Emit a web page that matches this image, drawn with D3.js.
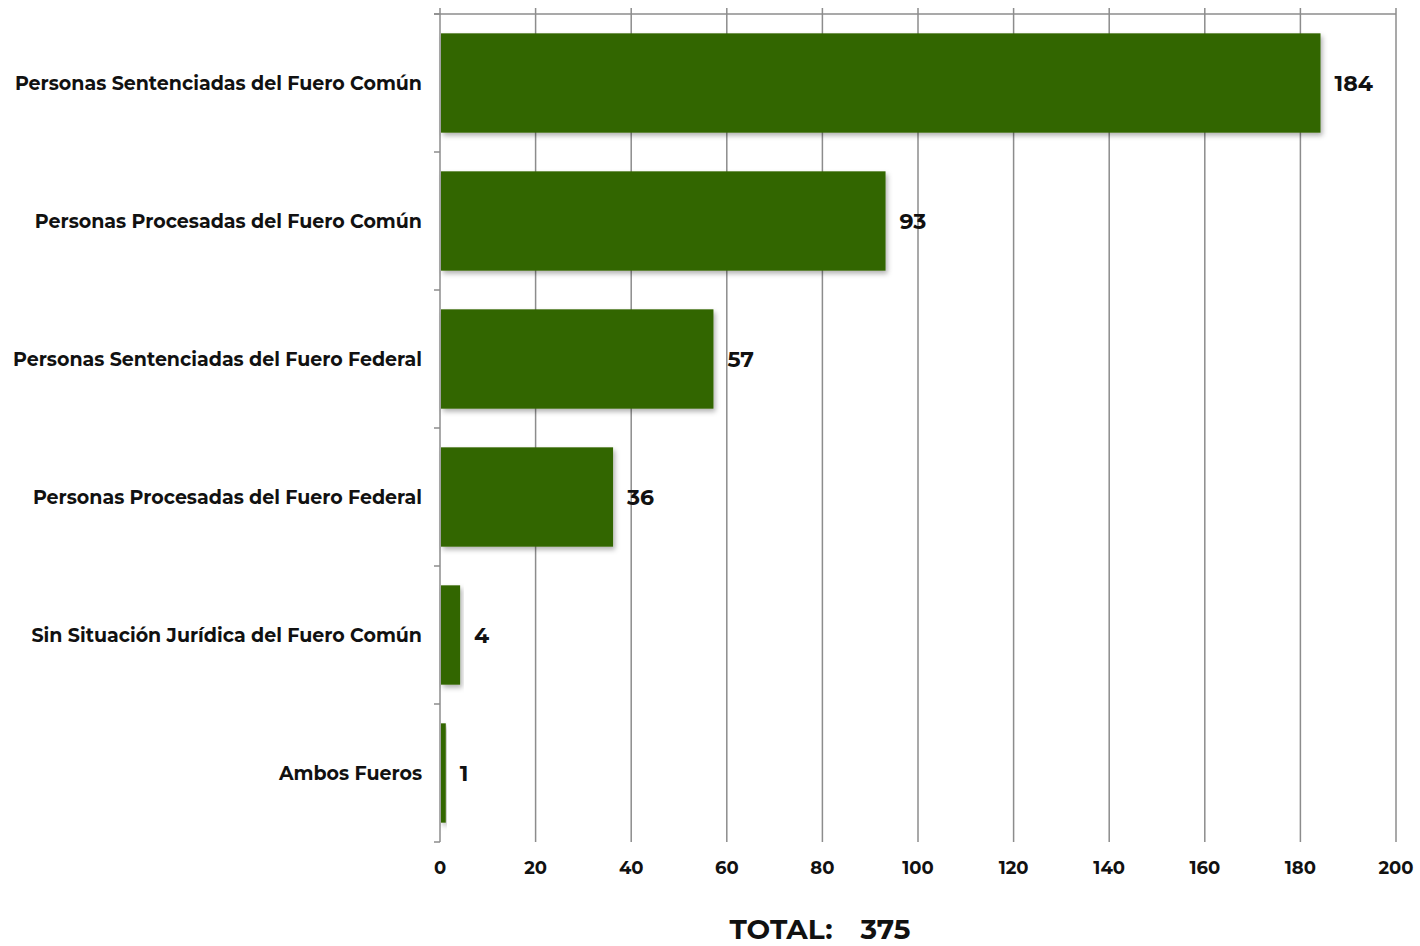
<!DOCTYPE html>
<html>
<head>
<meta charset="utf-8">
<script src="https://cdn.jsdelivr.net/npm/d3@7"></script>
<style>
  body { margin: 0; background: #fff; }
  text { font-family: "Montserrat", "Noto Sans", sans-serif; font-weight: bold; fill: #111; }
</style>
</head>
<body>
<div id="chart"></div>
<script>
// categories and values
var categories = [
  "Personas Sentenciadas del Fuero Común",
  "Personas Procesadas del Fuero Común",
  "Personas Sentenciadas del Fuero Federal",
  "Personas Procesadas del Fuero Federal",
  "Sin Situación Jurídica del Fuero Común",
  "Ambos Fueros"
];
var values = [184, 93, 57, 36, 4, 1];
var xTicks = [0, 20, 40, 60, 80, 100, 120, 140, 160, 180, 200];
var totalLabel = "TOTAL:";
var totalValue = 375;

var margin = {top: 14, right: 24, bottom: 104, left: 440},
    width = 1420 - margin.left - margin.right,
    height = 946 - margin.top - margin.bottom;

var svg = d3.select("#chart")
  .append("svg")
    .attr("width", 1420)
    .attr("height", 946);

var defs = svg.append("defs");
var filt = defs.append("filter").attr("id", "shadow")
  .attr("x", "-10%").attr("y", "-10%").attr("width", "130%").attr("height", "130%");
filt.append("feDropShadow")
  .attr("dx", 2).attr("dy", 3).attr("stdDeviation", 2.5)
  .attr("flood-color", "#000").attr("flood-opacity", 0.3);

var g = svg.append("g")
  .attr("transform", "translate(" + margin.left + "," + margin.top + ")");

var x = d3.scaleLinear().domain([0, 200]).range([0, width]);
var y = d3.scaleBand().domain(categories).range([0, height])
  .paddingInner(0.28).paddingOuter(0.14);

// vertical grid lines, sticking up above the top line
g.selectAll(".grid")
  .data(xTicks)
  .enter().append("line")
    .attr("class", "grid")
    .attr("x1", function(d) { return x(d); })
    .attr("x2", function(d) { return x(d); })
    .attr("y1", -6)
    .attr("y2", height)
    .attr("stroke", "#8c8c8c")
    .attr("stroke-width", 1.5);

// top line
g.append("line")
  .attr("x1", -6).attr("x2", width)
  .attr("y1", 0).attr("y2", 0)
  .attr("stroke", "#8c8c8c").attr("stroke-width", 1.5);

// left category ticks (boundaries between bands)
var bounds = d3.range(categories.length + 1).map(function(i) { return i * y.step(); });
g.selectAll(".ytick")
  .data(bounds)
  .enter().append("line")
    .attr("x1", -6).attr("x2", 0)
    .attr("y1", function(d) { return d; })
    .attr("y2", function(d) { return d; })
    .attr("stroke", "#8c8c8c").attr("stroke-width", 1.5);

// bars
g.selectAll(".bar")
  .data(values)
  .enter().append("rect")
    .attr("class", "bar")
    .attr("x", x(0) + 1)
    .attr("y", function(d, i) { return y(categories[i]); })
    .attr("width", function(d) { return x(d) - x(0); })
    .attr("height", y.bandwidth())
    .attr("fill", "#336600")
    .attr("filter", "url(#shadow)");

// value labels
g.selectAll(".val")
  .data(values)
  .enter().append("text")
    .attr("x", function(d) { return x(d) + 15; })
    .attr("y", function(d, i) { return y(categories[i]) + y.bandwidth() / 2; })
    .attr("dy", "0.35em")
    .style("font-size", "22px")
    .text(function(d) { return d; });

// category labels
g.selectAll(".cat")
  .data(categories)
  .enter().append("text")
    .attr("x", -18)
    .attr("y", function(d) { return y(d) + y.bandwidth() / 2; })
    .attr("dy", "0.35em")
    .attr("text-anchor", "end")
    .style("font-size", "19px")
    .text(function(d) { return d; });

// x tick labels
g.selectAll(".xlab")
  .data(xTicks)
  .enter().append("text")
    .attr("x", function(d) { return x(d); })
    .attr("y", height + 26)
    .attr("dy", "0.35em")
    .attr("text-anchor", "middle")
    .style("font-size", "18px")
    .text(function(d) { return d; });

// total
var tot = svg.append("text")
  .attr("x", 820)
  .attr("y", 929)
  .attr("dy", "0.35em")
  .attr("text-anchor", "middle")
  .style("font-size", "28px");
tot.append("tspan").text(totalLabel);
tot.append("tspan").attr("dx", 28).text(totalValue);
</script>
</body>
</html>
